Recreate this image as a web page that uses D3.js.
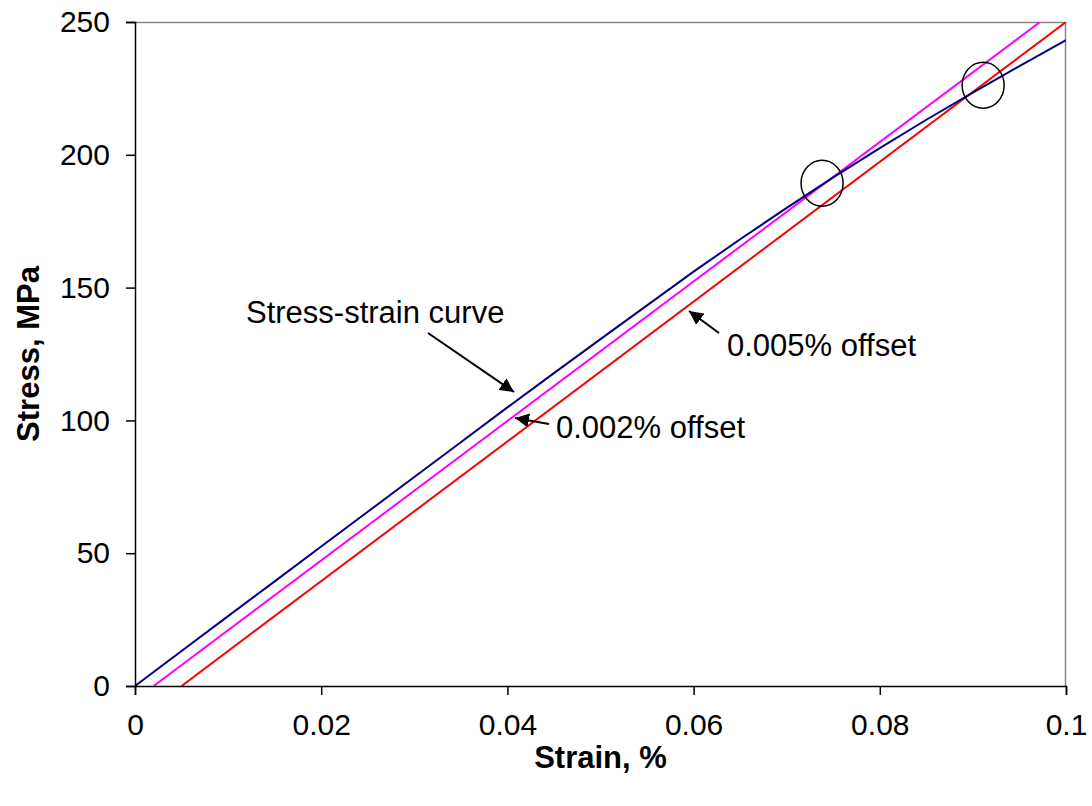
<!DOCTYPE html>
<html>
<head>
<meta charset="utf-8">
<script src="https://cdn.jsdelivr.net/npm/d3@7"></script>
<style>
  html, body { margin: 0; padding: 0; background: #fff; }
  svg { display: block; font-family: "Liberation Sans", Arial, sans-serif; }
</style>
</head>
<body>
<svg id="chart" width="1092" height="806"></svg>
<script>
// Measured stress-strain curve (strain in %, stress in MPa)
const curveStrain = [0, 0.005, 0.01, 0.015, 0.02, 0.025, 0.03, 0.035, 0.04, 0.045, 0.05,
                     0.055, 0.06, 0.065, 0.07, 0.075, 0.08, 0.085, 0.09, 0.095, 0.1];
const curveStress = [0, 13.2, 26.3, 39.4, 52.5, 65.6, 78.7, 91.8, 104.9, 117.8, 130.6,
                     143.3, 156.0, 168.2, 180.0, 191.5, 202.5, 213.2, 223.4, 233.4, 243.2];

// Offset lines drawn parallel to the elastic slope
const offset002Strain = [0.002, 0.0972];
const offset002Stress = [0, 250];
const offset005Strain = [0.005, 0.1];
const offset005Stress = [0, 250];

// Intersections of the offset lines with the curve (strain, stress)
const markStrain = [0.0738, 0.0911];
const markStress = [189.3, 226.2];

// Axis ticks
const xTicks = [0, 0.02, 0.04, 0.06, 0.08, 0.1];
const xTickLabels = ["0", "0.02", "0.04", "0.06", "0.08", "0.1"];
const yTicks = [0, 50, 100, 150, 200, 250];
const yTickLabels = ["0", "50", "100", "150", "200", "250"];

const margin = { left: 135, top: 22, right: 26, bottom: 120 };
const W = 1092, H = 806;
const innerW = W - margin.left - margin.right;
const innerH = H - margin.top - margin.bottom;

const svg = d3.select("#chart");
const g = svg.append("g").attr("transform", `translate(${margin.left},${margin.top})`);

const x = d3.scaleLinear().domain([0, 0.1]).range([0, innerW]);
const y = d3.scaleLinear().domain([0, 250]).range([innerH, 0]);

// Plot-area frame (top and right edges)
g.append("path")
  .attr("d", `M0,0.5H${innerW - 0.5}V${innerH}`)
  .attr("fill", "none")
  .attr("stroke", "#888")
  .attr("stroke-width", 1.5);

const line = d3.line().x(d => x(d[0])).y(d => y(d[1]));
const zip = (a, b) => a.map((v, i) => [v, b[i]]);

g.append("clipPath").attr("id", "plotClip")
  .append("rect").attr("width", innerW).attr("height", innerH);
const lines = g.append("g").attr("clip-path", "url(#plotClip)");

lines.append("path")
  .datum(zip(offset005Strain, offset005Stress))
  .attr("d", line).attr("fill", "none").attr("stroke", "#ff0000").attr("stroke-width", 2);
lines.append("path")
  .datum(zip(offset002Strain, offset002Stress))
  .attr("d", line).attr("fill", "none").attr("stroke", "#ff00ff").attr("stroke-width", 2);
lines.append("path")
  .datum(zip(curveStrain, curveStress))
  .attr("d", line).attr("fill", "none").attr("stroke", "#000080").attr("stroke-width", 2);

// Circles marking the yield points
g.selectAll("ellipse.mark")
  .data(zip(markStrain, markStress))
  .enter().append("ellipse")
  .attr("class", "mark")
  .attr("cx", d => x(d[0]))
  .attr("cy", d => y(d[1]))
  .attr("rx", 21).attr("ry", 23)
  .attr("fill", "none").attr("stroke", "#000").attr("stroke-width", 1.5);

// Axes
const xAxis = d3.axisBottom(x).tickValues(xTicks)
  .tickFormat((d, i) => xTickLabels[i]).tickSize(9).tickPadding(19);
const yAxis = d3.axisLeft(y).tickValues(yTicks)
  .tickFormat((d, i) => yTickLabels[i]).tickSize(9).tickPadding(16);

const gx = g.append("g").attr("transform", `translate(0,${innerH})`).call(xAxis);
const gy = g.append("g").call(yAxis);
[gx, gy].forEach(a => {
  a.select(".domain").attr("stroke", "#000").attr("stroke-width", 1.5);
  a.selectAll(".tick line").attr("stroke", "#000").attr("stroke-width", 1.5);
  a.selectAll(".tick text")
    .attr("font-family", "Liberation Sans, Arial, sans-serif")
    .attr("font-size", 30).attr("fill", "#000");
});

// Axis titles
svg.append("text")
  .attr("x", margin.left + innerW / 2)
  .attr("y", 768)
  .attr("text-anchor", "middle")
  .attr("font-size", 31).attr("font-weight", "bold")
  .text("Strain, %");
svg.append("text")
  .attr("transform", `translate(39,${margin.top + innerH / 2}) rotate(-90)`)
  .attr("text-anchor", "middle")
  .attr("font-size", 31).attr("font-weight", "bold")
  .text("Stress, MPa");

// Annotations with arrows
const defs = svg.append("defs");
defs.append("marker")
  .attr("id", "arrow").attr("viewBox", "0 0 10 10")
  .attr("refX", 10).attr("refY", 5)
  .attr("markerWidth", 7).attr("markerHeight", 7)
  .attr("orient", "auto")
  .append("path").attr("d", "M0,0L10,5L0,10z").attr("fill", "#000");

const notes = [
  { text: "Stress-strain curve", tx: 246, ty: 323, x1: 428, y1: 333, x2: 514, y2: 392 },
  { text: "0.002% offset", tx: 556, ty: 438, x1: 549, y1: 424, x2: 515, y2: 418 },
  { text: "0.005% offset", tx: 727, ty: 356, x1: 719, y1: 333, x2: 689, y2: 311 }
];
notes.forEach(n => {
  svg.append("line")
    .attr("x1", n.x1).attr("y1", n.y1).attr("x2", n.x2).attr("y2", n.y2)
    .attr("stroke", "#000").attr("stroke-width", 2)
    .attr("marker-end", "url(#arrow)");
  svg.append("text")
    .attr("x", n.tx).attr("y", n.ty)
    .attr("font-size", 31).attr("fill", "#000")
    .text(n.text);
});
</script>
</body>
</html>
